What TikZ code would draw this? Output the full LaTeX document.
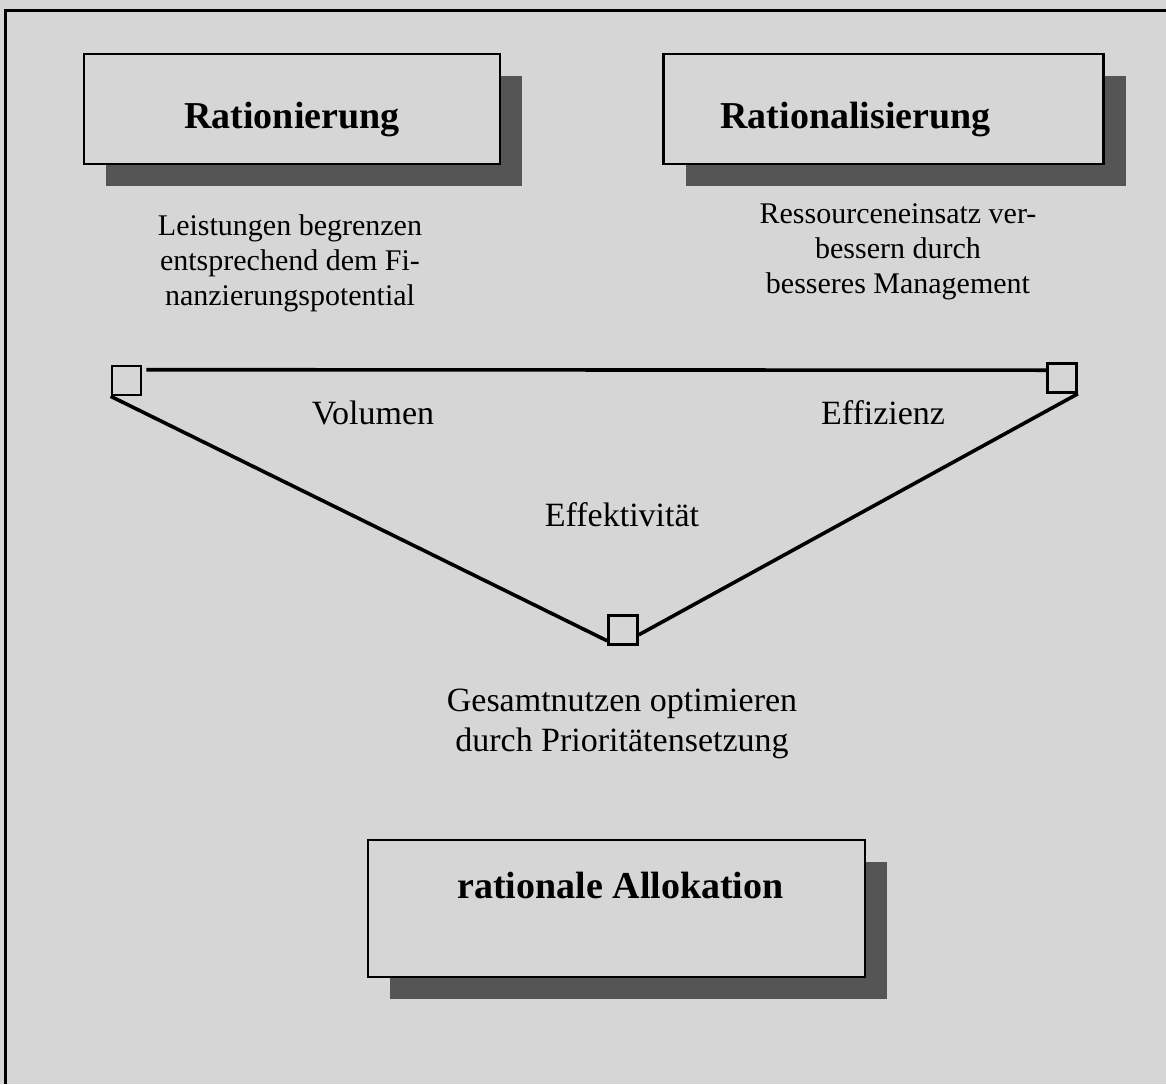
\documentclass[tikz,border=0pt]{standalone}
\usepackage{fontspec}
\setmainfont{Liberation Serif}
\usetikzlibrary{shadows}
\definecolor{paper}{RGB}{214,214,214}
\definecolor{shade}{RGB}{85,85,85}

\begin{document}
\begin{tikzpicture}[x=1pt,y=-1pt]
\tikzstyle{every node}+=[inner sep=0pt]
\tikzstyle{titlebox}=[draw=black, line width=2.8pt, fill=paper,
  drop shadow={shadow xshift=22pt, shadow yshift=-22pt, fill=shade, opacity=1}]
\tikzstyle{corner}=[draw=black, line width=2.6pt, minimum size=29pt]
\tikzstyle{side}=[black, line width=3.6pt]
\tikzstyle{title}=[font=\fontsize{38}{44}\selectfont\bfseries, anchor=base]
\tikzstyle{desc}=[font=\fontsize{30}{35}\selectfont, align=center]
\tikzstyle{lbl}=[font=\fontsize{34}{40}\selectfont, align=center]
\useasboundingbox (0,0) rectangle (1166,1084);
\fill [paper] (0,0) rectangle (1166,1084);
\draw [black, line width=3pt] (5,1084) -- (5,10) -- (1166,10);
\node [titlebox, minimum width=416pt, minimum height=110pt] (ratbox) at (292,109) {};
\node [title] (rattxt) at ([yshift=-76pt]ratbox.north) {Rationierung};
\node [titlebox, minimum width=440pt, minimum height=110pt] (rlsbox) at (883.5,109) {};
\node [title] (rlstxt) at ([xshift=-28pt,yshift=-76pt]rlsbox.north) {Rationalisierung};
\node [titlebox, minimum width=497pt, minimum height=137pt] (allbox) at (616.5,908.5) {};
\node [title] (alltxt) at ([xshift=4pt,yshift=-60pt]allbox.north) {rationale Allokation};
\node [desc] (ratdesc) at (290,263) {Leistungen begrenzen\\entsprechend dem Fi-\\nanzierungspotential};
\node [desc] (rlsdesc) at (898,252) {Ressourceneinsatz ver-\\bessern durch\\besseres Management};
\node [corner] (vol) at (126.5,380.5) {};
\node [corner] (eff) at (1062,378) {};
\node [corner] (ges) at (623,630) {};
\draw [side] ([xshift=4pt,yshift=-5pt]vol.north east) -- ([yshift=-8pt]eff.north west);
\draw [side] (vol.south west) -- ([yshift=5pt]ges.south west);
\draw [side] (eff.south east) -- ([yshift=11pt]ges.south east);
\node [lbl] (voltxt) at (373,413) {Volumen};
\node [lbl] (efftxt) at (883,413) {Effizienz};
\node [lbl] (ekttxt) at (622,515) {Effektivität};
\node [lbl] (gestxt) at (622,724) {Gesamtnutzen optimieren\\durch Prioritätensetzung};
\end{tikzpicture}
\end{document}
